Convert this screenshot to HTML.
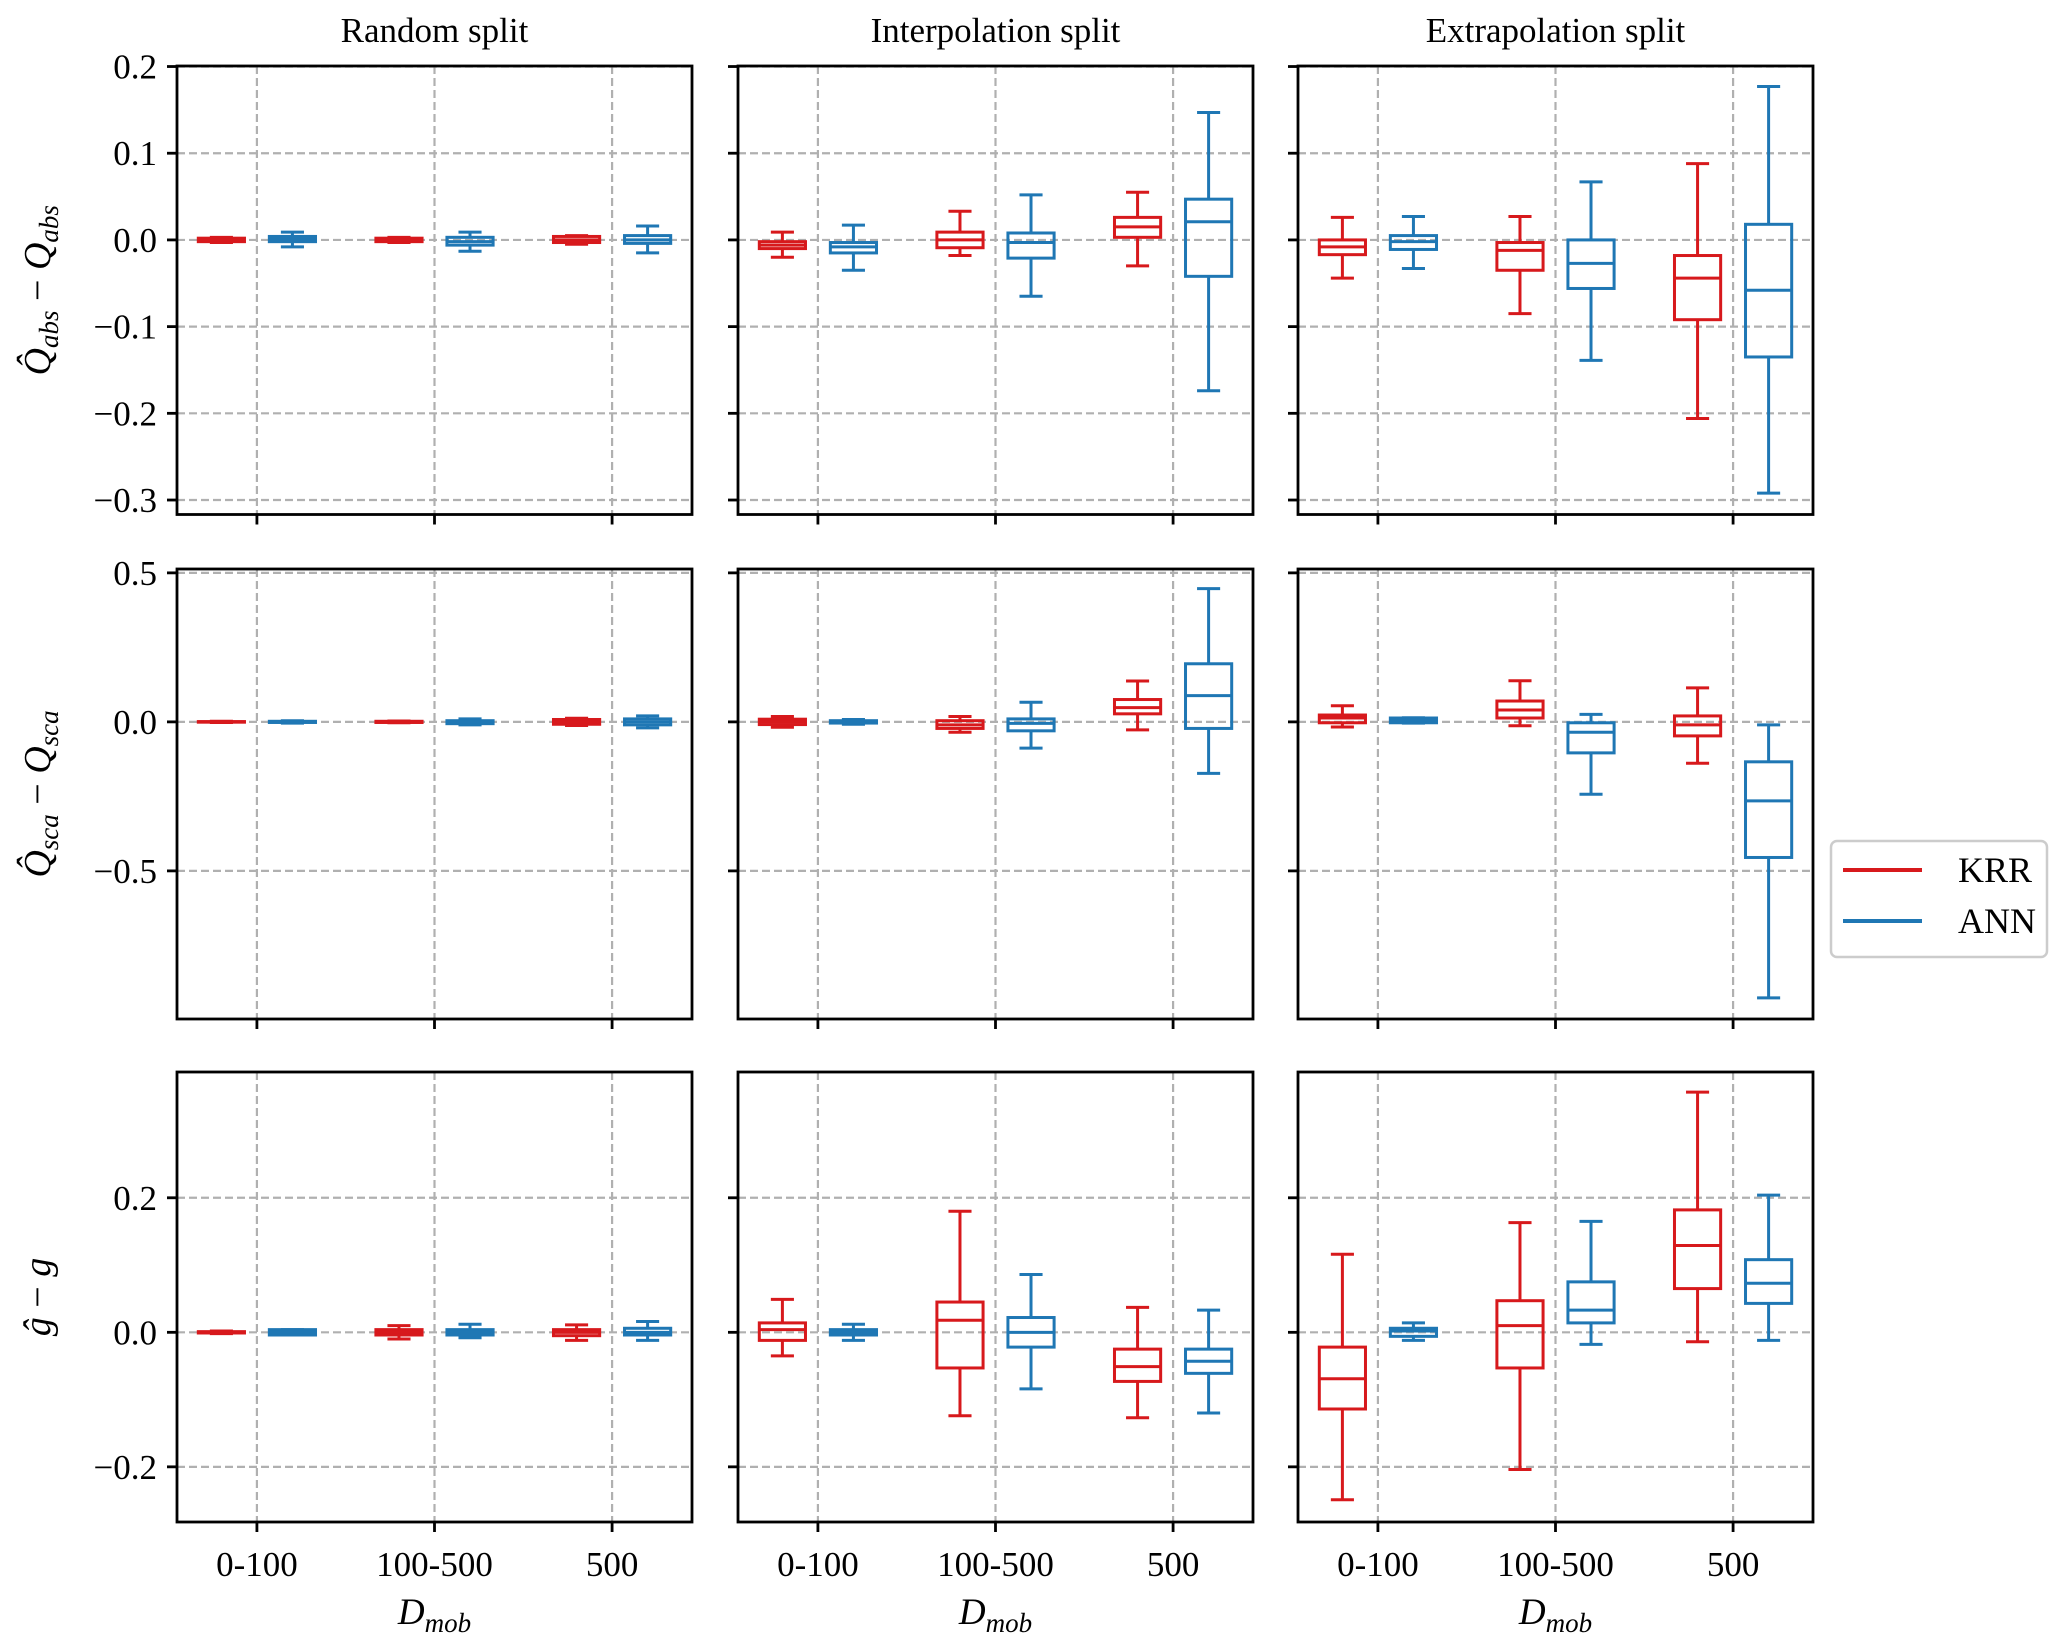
<!DOCTYPE html>
<html><head><meta charset="utf-8"><style>
html,body{margin:0;padding:0;background:#fff;}
svg{display:block;font-family:"Liberation Serif","DejaVu Serif",serif;}
</style></head><body>
<svg id="fig" width="2067" height="1644" viewBox="0 0 2067 1644" xmlns="http://www.w3.org/2000/svg"></svg>
<script>
// ---- data: [whisker_low, q1, median, q3, whisker_high] per category (0-100, 100-500, 500)
const categories = ["0-100", "100-500", "500"];
const colTitles = ["Random split", "Interpolation split", "Extrapolation split"];
// Row 1: Q_abs error
const qabsRandomKRR = [[-0.003,-0.002,0,0.002,0.003],[-0.003,-0.002,0,0.002,0.003],[-0.005,-0.003,0,0.004,0.005]];
const qabsRandomANN = [[-0.008,-0.002,0.001,0.004,0.009],[-0.013,-0.006,-0.002,0.003,0.009],[-0.015,-0.004,0,0.005,0.016]];
const qabsInterpKRR = [[-0.02,-0.01,-0.006,-0.002,0.009],[-0.018,-0.009,0,0.009,0.033],[-0.03,0.003,0.015,0.026,0.055]];
const qabsInterpANN = [[-0.035,-0.015,-0.008,-0.003,0.017],[-0.065,-0.021,-0.003,0.008,0.052],[-0.174,-0.042,0.021,0.047,0.147]];
const qabsExtrapKRR = [[-0.044,-0.017,-0.008,0,0.026],[-0.085,-0.035,-0.012,-0.003,0.027],[-0.206,-0.092,-0.044,-0.018,0.088]];
const qabsExtrapANN = [[-0.033,-0.011,-0.002,0.005,0.027],[-0.139,-0.056,-0.027,0,0.067],[-0.292,-0.135,-0.058,0.018,0.177]];
// Row 2: Q_sca error
const qscaRandomKRR = [[-0.002,-0.001,0,0.001,0.002],[-0.003,-0.002,0,0.002,0.003],[-0.012,-0.008,0,0.008,0.012]];
const qscaRandomANN = [[-0.004,-0.002,0,0.002,0.004],[-0.01,-0.006,-0.001,0.004,0.01],[-0.02,-0.01,0,0.01,0.02]];
const qscaInterpKRR = [[-0.018,-0.009,0,0.009,0.018],[-0.035,-0.022,-0.01,0.004,0.018],[-0.027,0.027,0.048,0.075,0.137]];
const qscaInterpANN = [[-0.008,-0.004,-0.002,0.004,0.008],[-0.088,-0.03,-0.005,0.01,0.066],[-0.173,-0.022,0.088,0.195,0.447]];
const qscaExtrapKRR = [[-0.017,-0.003,0.013,0.023,0.054],[-0.013,0.013,0.04,0.07,0.138],[-0.139,-0.047,-0.01,0.02,0.114]];
const qscaExtrapANN = [[-0.004,-0.003,0.005,0.013,0.014],[-0.243,-0.104,-0.035,-0.003,0.025],[-0.926,-0.455,-0.265,-0.134,-0.01]];
// Row 3: g error
const gRandomKRR = [[-0.002,-0.001,0,0.001,0.002],[-0.01,-0.004,0,0.004,0.01],[-0.012,-0.005,0,0.004,0.011]];
const gRandomANN = [[-0.004,-0.004,0,0.004,0.004],[-0.008,-0.004,0,0.004,0.012],[-0.012,-0.004,0,0.006,0.016]];
const gInterpKRR = [[-0.035,-0.012,0.004,0.014,0.049],[-0.124,-0.053,0.018,0.045,0.18],[-0.127,-0.073,-0.051,-0.025,0.037]];
const gInterpANN = [[-0.012,-0.004,0,0.004,0.012],[-0.084,-0.022,0,0.022,0.086],[-0.12,-0.061,-0.043,-0.025,0.033]];
const gExtrapKRR = [[-0.249,-0.114,-0.069,-0.022,0.116],[-0.204,-0.053,0.01,0.047,0.163],[-0.014,0.065,0.129,0.182,0.357]];
const gExtrapANN = [[-0.012,-0.006,0.002,0.006,0.014],[-0.018,0.014,0.033,0.075,0.165],[-0.012,0.043,0.073,0.108,0.204]];
const rowTicks = [[0.2,0.1,0,-0.1,-0.2,-0.3],[0.5,0,-0.5],[0.2,0,-0.2]];
const rowTickLabels = [["0.2","0.1","0.0","\u22120.1","\u22120.2","\u22120.3"],["0.5","0.0","\u22120.5"],["0.2","0.0","\u22120.2"]];
const rowYlim = [[-0.3167,0.2006],[-0.997,0.513],[-0.282,0.387]];

const panelData = [
 [[qabsRandomKRR,qabsRandomANN],[qabsInterpKRR,qabsInterpANN],[qabsExtrapKRR,qabsExtrapANN]],
 [[qscaRandomKRR,qscaRandomANN],[qscaInterpKRR,qscaInterpANN],[qscaExtrapKRR,qscaExtrapANN]],
 [[gRandomKRR,gRandomANN],[gInterpKRR,gInterpANN],[gExtrapKRR,gExtrapANN]]
];

const NS="http://www.w3.org/2000/svg";
const svg=document.getElementById('fig');
function mk(tag,attrs,parent){const e=document.createElementNS(NS,tag);for(const k in attrs)e.setAttribute(k,attrs[k]);(parent||svg).appendChild(e);return e;}

const colX=[177,738,1298], W=515;
const rowY=[[66,514.5],[569,1019],[1072,1522]];
const colors=["#d7191c","#1f77b4"];
const offsets=[-0.2,0.2];
const xlim=[-0.45,2.45];
const panelNames=["qabs","qsca","g"], splitNames=["random","interp","extrap"], modelNames=["krr","ann"];
const FS=35;

for(let r=0;r<3;r++){
 const top=rowY[r][0], bot=rowY[r][1];
 const ymin=rowYlim[r][0], ymax=rowYlim[r][1];
 const yS=v=>bot-(v-ymin)/(ymax-ymin)*(bot-top);
 for(let c=0;c<3;c++){
  const left=colX[c];
  const xS=v=>left+(v-xlim[0])/(xlim[1]-xlim[0])*W;
  const g=mk('g',{});
  
  
  rowTicks[r].forEach((t,i)=>{
   const y=yS(t);
   const gl=mk('line',{x1:left,x2:left+W,y1:y,y2:y,stroke:'#b0b0b0','stroke-width':2.2,'stroke-dasharray':'8,4'},g);
   
   
   const tk=mk('line',{x1:left-10,x2:left,y1:y,y2:y,stroke:'#000','stroke-width':2.8},g);
   
   
   if(c===0){
    const tl=mk('text',{x:left-20,y:y+12,'text-anchor':'end','font-size':FS},g);
    tl.textContent=rowTickLabels[r][i];
    
    
   }
  });
  categories.forEach((cat,i)=>{
   const x=xS(i);
   const gl=mk('line',{x1:x,x2:x,y1:top,y2:bot,stroke:'#b0b0b0','stroke-width':2.2,'stroke-dasharray':'8,4'},g);
   
   
   const tk=mk('line',{x1:x,x2:x,y1:bot,y2:bot+10,stroke:'#000','stroke-width':2.8},g);
   
   
   if(r===2){
    const tl=mk('text',{x:x,y:bot+54,'text-anchor':'middle','font-size':FS},g);
    tl.textContent=cat;
    
    
   }
  });
  for(let m=0;m<2;m++){
   const series=panelData[r][c][m];
   series.forEach((d,i)=>{
    const cx=xS(i+offsets[m]);
    const hw=xS(0.13)-xS(0), cw=xS(0.065)-xS(0);
    const col=colors[m];
    const bg=mk('g',{stroke:col,'stroke-width':3,fill:'none'},g);
    
    
    mk('line',{x1:cx,x2:cx,y1:yS(d[0]),y2:yS(d[1])},bg);
    mk('line',{x1:cx,x2:cx,y1:yS(d[3]),y2:yS(d[4])},bg);
    mk('line',{x1:cx-cw,x2:cx+cw,y1:yS(d[0]),y2:yS(d[0])},bg);
    mk('line',{x1:cx-cw,x2:cx+cw,y1:yS(d[4]),y2:yS(d[4])},bg);
    mk('rect',{x:cx-hw,y:yS(d[3]),width:2*hw,height:Math.max(0.5,yS(d[1])-yS(d[3]))},bg);
    mk('line',{x1:cx-hw,x2:cx+hw,y1:yS(d[2]),y2:yS(d[2])},bg);
   });
  }
  const fr=mk('rect',{x:left,y:top,width:W,height:bot-top,fill:'none',stroke:'#000','stroke-width':2.8},g);
  
  
  if(r===0){
   const t=mk('text',{x:left+W/2,y:42,'text-anchor':'middle','font-size':FS});
   t.textContent=colTitles[c];
   
   
  }
  if(r===2){
   const t=mk('text',{x:left+W/2,y:1624,'text-anchor':'middle','font-size':37,'font-style':'italic'});
   t.innerHTML='D<tspan font-size="27" dy="8">mob</tspan>';
   
   
  }
 }
}
const ylab=[
 {y:(66+514.5)/2, html:'Q\u0302<tspan font-size="27" dy="8">abs</tspan><tspan dy="-8" font-style="normal"> \u2212 </tspan>Q<tspan font-size="27" dy="8">abs</tspan>', n:'y-axis-title-qabs'},
 {y:(569+1019)/2, html:'Q\u0302<tspan font-size="27" dy="8">sca</tspan><tspan dy="-8" font-style="normal"> \u2212 </tspan>Q<tspan font-size="27" dy="8">sca</tspan>', n:'y-axis-title-qsca'},
 {y:(1072+1522)/2, html:'g\u0302<tspan font-style="normal"> \u2212 </tspan>g', n:'y-axis-title-g'}
];
ylab.forEach(l=>{
 const t=mk('text',{x:0,y:0,'text-anchor':'middle','font-size':38,'font-style':'italic',transform:'translate(50,'+l.y+') rotate(-90)'});
 t.innerHTML=l.html;
 
 
});
const lg=mk('g',{});


mk('rect',{x:1831,y:841,width:216,height:116,rx:6,fill:'#fff',stroke:'#cccccc','stroke-width':2.5},lg);
const legendLabels=["KRR","ANN"];
legendLabels.forEach((lab,i)=>{
 const y=870+i*51;
 const e=mk('g',{},lg);
 
 
 mk('line',{x1:1843,x2:1922,y1:y,y2:y,stroke:colors[i],'stroke-width':4},e);
 const t=mk('text',{x:1958,y:y+12,'font-size':36},e);
 t.textContent=lab;
});
</script>
</body></html>
